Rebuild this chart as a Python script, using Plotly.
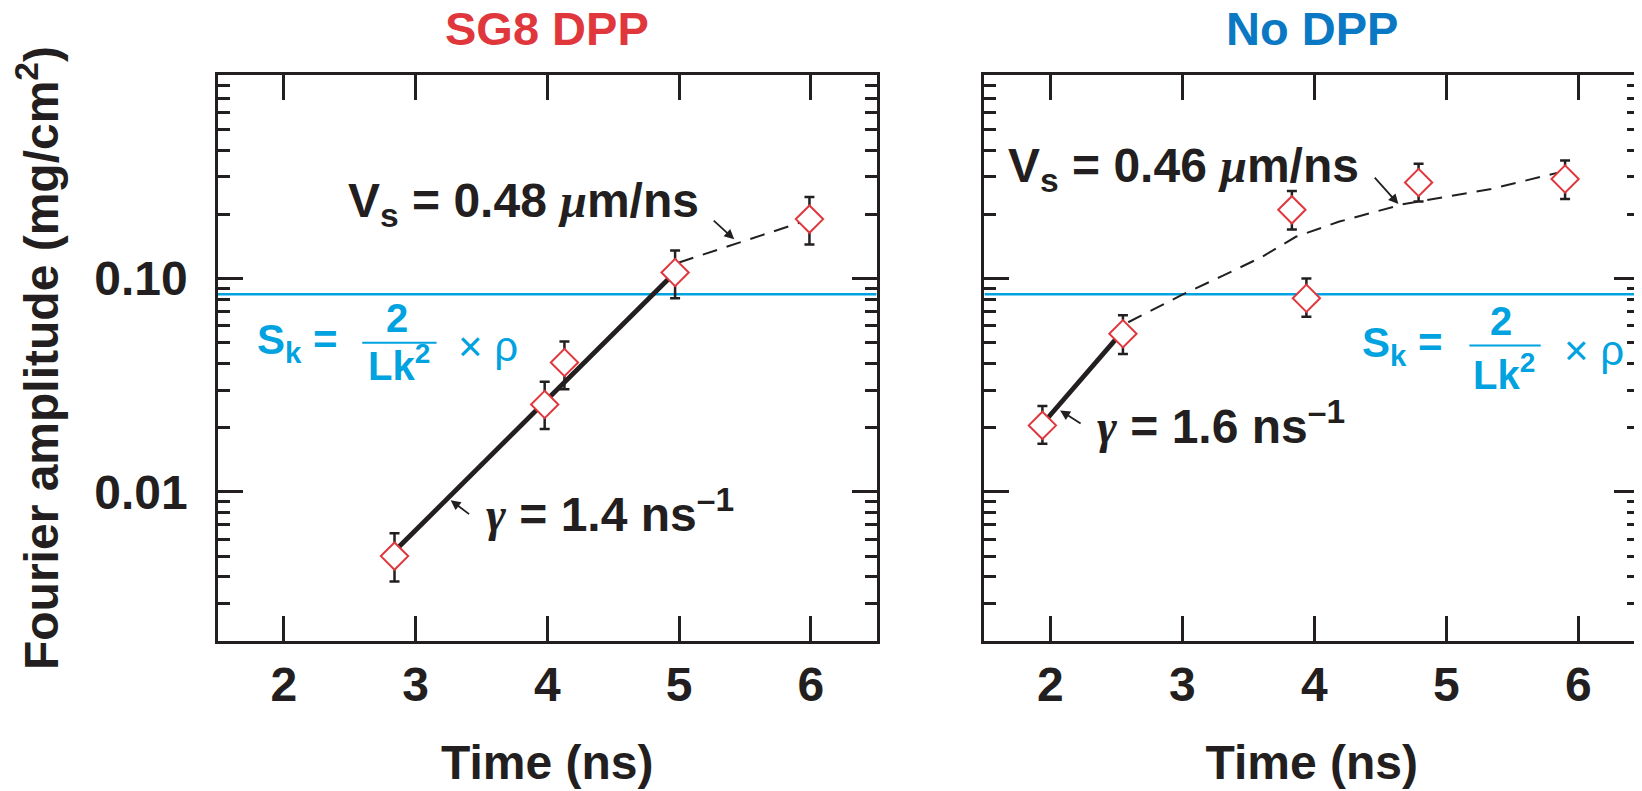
import math
import plotly.graph_objects as go

# ---------------- data ----------------
# SG8 DPP panel
sg8_t = [2.84, 3.98, 4.13, 4.97, 5.99]
sg8_amp = [0.0050, 0.0257, 0.0404, 0.1067, 0.190]
sg8_hi = [0.0064, 0.0328, 0.0507, 0.1355, 0.241]
sg8_lo = [0.0038, 0.0197, 0.0303, 0.0809, 0.1445]
sg8_fit_t = [2.87, 4.95]
sg8_fit_amp = [0.0055, 0.104]
sg8_dash_t = [5.0, 5.92]
sg8_dash_amp = [0.119, 0.183]

# No DPP panel
nodpp_t = [1.94, 2.55, 3.83, 3.94, 4.79, 5.90]
nodpp_amp = [0.0205, 0.0551, 0.210, 0.0809, 0.282, 0.293]
nodpp_hi = [0.0253, 0.0673, 0.257, 0.100, 0.345, 0.358]
nodpp_lo = [0.0168, 0.0443, 0.170, 0.0662, 0.2296, 0.236]
nodpp_fit_t = [1.98, 2.50]
nodpp_fit_amp = [0.0222, 0.0523]
nodpp_dash_t = [2.59, 3.0, 3.3, 3.6, 3.86, 4.19, 4.67, 5.34, 5.84]
nodpp_dash_amp = [0.0624, 0.084, 0.1027, 0.126, 0.157, 0.185, 0.223, 0.263, 0.313]

sk_level = 0.0845

x_ticks = [2, 3, 4, 5, 6]
y_major = [0.01, 0.1]
y_major_text = ["0.01", "0.10"]
y_minor = [m * d for d in (0.001, 0.01, 0.1) for m in range(2, 10)]

panel_titles = ["SG8 DPP", "No DPP"]
SERIF = '<span style="font-family:Liberation Serif, DejaVu Serif, serif"><i>{}</i></span>'
vs_labels = ["V<sub>s</sub> = 0.48 " + SERIF.format("μ") + "m/ns",
             "V<sub>s</sub> = 0.46 " + SERIF.format("μ") + "m/ns"]
gamma_labels = [SERIF.format("γ") + " = 1.4 ns<sup>–1</sup>",
                SERIF.format("γ") + " = 1.6 ns<sup>–1</sup>"]

# ---------------- style ----------------
FONT = "Liberation Sans, Arial, Helvetica, sans-serif"
BLACK = "#231F20"
RED = "#E0373D"
TITLE_BLUE = "#0A78C2"
SK_BLUE = "#00A2E0"

fig = go.Figure()


def add_panel(xa, ya, t, amp, hi, lo, fit_t, fit_amp, dash_t, dash_amp, xr):
    fig.add_trace(go.Scatter(x=[xr[0], xr[1]], y=[sk_level, sk_level], mode="lines",
                             line=dict(color=SK_BLUE, width=2.5), xaxis=xa, yaxis=ya,
                             showlegend=False, hoverinfo="skip"))
    fig.add_trace(go.Scatter(x=fit_t, y=fit_amp, mode="lines",
                             line=dict(color=BLACK, width=4.8), xaxis=xa, yaxis=ya,
                             showlegend=False))
    fig.add_trace(go.Scatter(x=dash_t, y=dash_amp, mode="lines",
                             line=dict(color=BLACK, width=2, dash="15px,10px"), xaxis=xa, yaxis=ya,
                             showlegend=False))
    fig.add_trace(go.Scatter(
        x=t, y=amp, mode="markers", xaxis=xa, yaxis=ya, showlegend=False,
        marker=dict(symbol="diamond", size=21, color="white", line=dict(color=RED, width=2)),
        error_y=dict(type="data", symmetric=False,
                     array=[h - a for h, a in zip(hi, amp)],
                     arrayminus=[a - l for a, l in zip(amp, lo)],
                     color=BLACK, thickness=2.5, width=5)))


add_panel("x", "y", sg8_t, sg8_amp, sg8_hi, sg8_lo, sg8_fit_t, sg8_fit_amp,
          sg8_dash_t, sg8_dash_amp, [1.5, 6.5])
add_panel("x2", "y2", nodpp_t, nodpp_amp, nodpp_hi, nodpp_lo, nodpp_fit_t, nodpp_fit_amp,
          nodpp_dash_t, nodpp_dash_amp, [1.5, 6.46])

axis_common = dict(showline=True, linewidth=2.5, linecolor=BLACK, mirror="allticks",
                   ticks="inside", tickwidth=2.5, tickcolor=BLACK, showgrid=False,
                   zeroline=False)

xfont = dict(family=FONT, size=48, color=BLACK, weight="bold")
title_font = dict(family=FONT, size=48, color=BLACK, weight="bold")
fig.update_layout(
    width=1634, height=783,
    margin=dict(l=210, r=0, t=67, b=150),
    paper_bgcolor="white", plot_bgcolor="white",
    xaxis=dict(domain=[0, 0.4635], range=[1.5, 6.5], tickvals=x_ticks, ticklen=25,
               tickfont=xfont, ticklabelstandoff=0,
               title=dict(text="Time (ns)", font=title_font, standoff=36), **axis_common),
    xaxis2=dict(domain=[0.5393, 1.0], range=[1.5, 6.46], tickvals=x_ticks, ticklen=25,
                tickfont=xfont, ticklabelstandoff=0, anchor="y2",
                title=dict(text="Time (ns)", font=title_font, standoff=36), **axis_common),
    yaxis=dict(type="log", range=[math.log10(0.002), math.log10(0.9)],
               tickvals=y_major, ticktext=y_major_text, ticklen=25, tickfont=xfont,
               ticklabelstandoff=18,
               minor=dict(tickvals=y_minor, ticklen=12, tickwidth=2.5, tickcolor=BLACK, ticks="inside"),
               title=dict(text="Fourier amplitude (mg/cm<sup>2</sup>)", font=title_font, standoff=28),
               **axis_common),
    yaxis2=dict(type="log", range=[math.log10(0.002), math.log10(0.9)], anchor="x2",
                tickvals=y_major, ticklen=25, showticklabels=False,
                minor=dict(tickvals=y_minor, ticklen=12, tickwidth=2.5, tickcolor=BLACK, ticks="inside"),
                **axis_common),
)

ann = []
# panel titles
for i, (txt, col) in enumerate(zip(panel_titles, [RED, TITLE_BLUE])):
    ann.append(dict(text=txt, xref=("x domain" if i == 0 else "x2 domain"), yref="paper",
                    x=0.5, y=1.0815, xanchor="center", yanchor="middle", showarrow=False,
                    font=dict(family=FONT, size=47, color=col, weight="bold")))

lab_font = dict(family=FONT, size=48, color=BLACK, weight="bold")
# Vs and gamma labels
ann.append(dict(text=vs_labels[0], xref="x", yref="y", x=3.82, y=math.log10(0.2234),
                showarrow=False, font=lab_font, xanchor="center", yanchor="middle"))
ann.append(dict(text=gamma_labels[0], xref="x", yref="y", x=4.479, y=math.log10(0.00813),
                showarrow=False, font=lab_font, xanchor="center", yanchor="middle"))
ann.append(dict(text=vs_labels[1], xref="x2", yref="y2", x=3.012, y=math.log10(0.3266),
                showarrow=False, font=lab_font, xanchor="center", yanchor="middle"))
ann.append(dict(text=gamma_labels[1], xref="x2", yref="y2", x=3.29, y=math.log10(0.02104),
                showarrow=False, font=lab_font, xanchor="center", yanchor="middle"))

# arrows
arrow_style = dict(text="", showarrow=True, arrowhead=2, arrowsize=1.1, arrowwidth=1.8,
                   arrowcolor=BLACK, axref="pixel", ayref="pixel")
ann.append(dict(xref="x", yref="y", x=5.419, y=math.log10(0.1528), ax=-22, ay=-20, **arrow_style))
ann.append(dict(xref="x", yref="y", x=3.266, y=math.log10(0.00914), ax=20, ay=15, **arrow_style))
ann.append(dict(xref="x2", yref="y2", x=4.637, y=math.log10(0.2234), ax=-25, ay=-28, **arrow_style))
ann.append(dict(xref="x2", yref="y2", x=2.074, y=math.log10(0.0241), ax=22, ay=14, **arrow_style))

# S_k equation
sk_font = dict(family=FONT, size=42, color=SK_BLUE, weight="bold")
fr_font = dict(family=FONT, size=40, color=SK_BLUE, weight="bold")
sk_font_n = dict(family=FONT, size=42, color=SK_BLUE)
for xr, yr, xs, ys, x2c, y2, xl, yl, xx, yx in [
        ("x", "y", 1.78, 0.0500, 2.861, 0.0651, 2.874, 0.0404, 3.308, 0.048),
        ("x2", "y2", 4.345, 0.0487, 5.416, 0.0634, 5.436, 0.0363, 5.876, 0.0459)]:
    ann.append(dict(text="S<sub>k</sub> =", xref=xr, yref=yr, x=xs, y=math.log10(ys),
                    xanchor="left", yanchor="middle", showarrow=False, font=sk_font))
    ann.append(dict(text="2", xref=xr, yref=yr, x=x2c, y=math.log10(y2),
                    xanchor="center", yanchor="middle", showarrow=False, font=fr_font))
    ann.append(dict(text="Lk<sup>2</sup>", xref=xr, yref=yr, x=xl, y=math.log10(yl),
                    xanchor="center", yanchor="middle", showarrow=False, font=fr_font))
    ann.append(dict(text="× ρ", xref=xr, yref=yr, x=xx, y=math.log10(yx),
                    xanchor="left", yanchor="middle", showarrow=False, font=sk_font_n))

fig.update_layout(annotations=ann)

# fraction bars
fig.add_shape(type="line", xref="x", yref="paper", x0=2.595, x1=3.159, y0=0.527, y1=0.527,
              line=dict(color=SK_BLUE, width=2))
fig.add_shape(type="line", xref="x2", yref="paper", x0=5.175, x1=5.715, y0=0.5223, y1=0.5223,
              line=dict(color=SK_BLUE, width=2))

fig.write_html("out.html")
